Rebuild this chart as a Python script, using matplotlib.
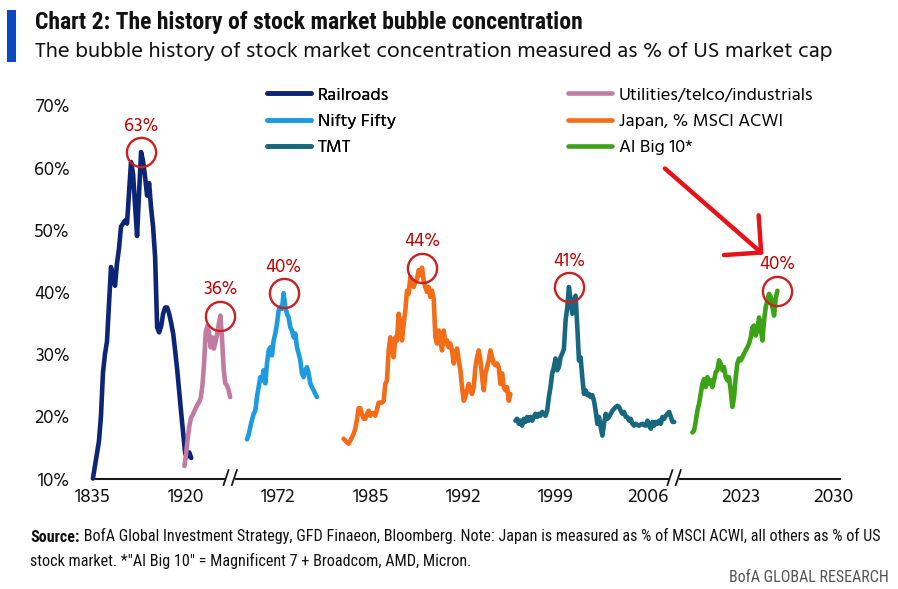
import numpy as np
import matplotlib
matplotlib.use("Agg")
import matplotlib.pyplot as plt
from matplotlib import font_manager as fm
from matplotlib import transforms as mtransforms
from matplotlib.patches import Rectangle

# ---------------- data ----------------
tick_labels = ["1835", "1920", "1972", "1985", "1992", "1999", "2006", "2023", "2030"]
y_ticks = [10, 20, 30, 40, 50, 60, 70]

series_names = ["Railroads", "Utilities/telco/industrials", "Nifty Fifty",
                "Japan, % MSCI ACWI", "TMT", "AI Big 10*"]

railroads = [10, 12, 14, 16, 20, 27, 30, 32, 38, 44, 42.5, 41, 44.6, 47, 50.5,
             51, 51.5, 51, 56, 60.9, 59, 54, 49, 56, 62.5, 61, 58.5, 55.5, 57.5,
             53.5, 50.4, 45.6, 34.3, 33.5, 34.5, 36.5, 37.5, 37.5, 36.5, 35,
             33.3, 30.5, 27.5, 24, 20.5, 17.2, 14, 13.5, 14.2, 13.3]

utilities = [12, 14, 16.5, 18.5, 19.8, 20.2, 20.8, 21.4, 21.9, 22.3, 23, 25,
             28.5, 33.5, 34.5, 33.5, 31.1, 32.7, 30.9, 32, 33.2, 34.8, 36.2,
             32.5, 27.5, 25.3, 25, 24.2, 23.1]

nifty_fifty = [16.3, 17, 18.3, 19.4, 20.4, 20.9, 23.1, 24.7, 26.3, 25.8, 27.4,
               25.3, 28.5, 30.6, 31.1, 29.8, 32.2, 33.3, 34.9, 37, 37.6, 37.3,
               39.8, 37.6, 36.5, 35.9, 34.3, 33.8, 32.7, 33.3, 31.1, 30.1, 29,
               26.9, 26.3, 27.4, 27.9, 26.9, 25.3, 24.7, 24.2, 23.6, 23.1]

japan = [16.4, 16.1, 15.8, 15.6, 16.1, 16.6, 17.2, 18, 19.5, 21.3, 21.3, 20.3,
         19.6, 19.6, 20.4, 20.9, 20.1, 20.5, 20.5, 20.1, 21.1, 22.2, 22.2, 22.2,
         22.5, 25.2, 25.8, 30.6, 32.7, 31.1, 29.5, 32.7, 32.2, 36.5, 34.9, 32.2,
         34.9, 37, 40.2, 39.7, 42.4, 41.8, 40.8, 41.6, 42.1, 43.5, 42.7, 43.9,
         41.8, 40.8, 40, 40.8, 39.2, 40.2, 38.9, 32.7, 31.7, 33.8, 32.2, 30.6,
         33.8, 31.7, 32.2, 31.1, 31.7, 30.6, 28.5, 30.1, 30.9, 29, 27.4, 24.7,
         22.5, 23.1, 24.2, 25.2, 24.2, 23.6, 24.7, 27.9, 29.5, 30.6, 29, 26.3,
         24.2, 26.9, 27.9, 29, 30.6, 29.5, 28.5, 28.2, 28.5, 27.9, 25.2, 26.9,
         24.7, 24.2, 24.7, 22.5, 23.6]

tmt = [19.3, 19.6, 18.8, 19.3, 18.5, 19.6, 19.1, 19.9, 19.3, 19.9, 19.3, 19.9,
       20.4, 19.9, 20.4, 20.1, 20.7, 20.4, 20.1, 20.9, 23.1, 24.7, 26.9, 27.9,
       29.3, 27.4, 27.9, 29.5, 30.1, 30.8, 35.4, 37.5, 40.8, 38.8, 36.5, 38.6,
       39.4, 34.5, 29, 29.5, 26.3, 23.6, 24.2, 23.4, 23.6, 23.1, 23.4, 22.5,
       20.9, 18.8, 19.9, 18.3, 16.9, 18.8, 20.4, 19.6, 19.9, 20.4, 20.9, 21.2,
       21.5, 21.7, 21.5, 20.9, 20.4, 20.7, 19.9, 19.9, 19.3, 19.6, 18.8, 18.5,
       18.8, 18.6, 18.5, 18.7, 18.8, 18.6, 18.5, 19.3, 18.5, 18, 19.1, 18.5,
       19.1, 18.8, 19.3, 18.8, 19.9, 19.6, 20.1, 20.4, 20.7, 19.9, 19.1, 19.1]

ai_big10 = [17.4, 17.7, 19.1, 20.9, 22, 23.6, 25.2, 26, 24.7, 26.3, 25.2, 25.8,
            24.7, 25.8, 27.1, 27.4, 29, 28.5, 27.4, 27.9, 26.3, 25.8, 26.3, 24.2,
            21.5, 23.1, 26.3, 28.5, 29.3, 29, 29.5, 30.1, 30.6, 31.1, 31.7, 32.7,
            34.3, 34.6, 33, 33.8, 35.9, 34.3, 32.2, 35.4, 37.6, 38.6, 39.7, 39.2,
            37.6, 36.2, 39, 40.2]

peak_labels = ["63%", "36%", "40%", "44%", "41%", "40%"]

# ---------------- layout / style ----------------
# where each episode sits along the broken time axis (axis units: one unit per tick)
spans = [(0.0, 1.062), (0.989, 1.483), (1.664, 2.420),
         (2.708, 4.510), (4.564, 6.279), (6.475, 7.394)]
breaks = [1.483, 6.278]
colors = ["#0C2577", "#C27BA0", "#1D9BE2", "#F36C17", "#17687F", "#3CA317"]

avail = {f.name for f in fm.fontManager.ttflist}


def pick(*names):
    for n in names:
        if n in avail:
            return n
    return "DejaVu Sans"


REG = pick("Hind", "Noto Sans", "Open Sans")
COND = pick("Roboto Condensed", "Fira Sans Condensed", "PT Sans Narrow",
            "Asap Condensed", "Archivo Narrow", "Barlow Semi Condensed")

W, H = 898, 589
fig = plt.figure(figsize=(W / 100, H / 100), dpi=100)
fig.patch.set_facecolor("white")
ax = fig.add_axes([92 / W, (H - 478.5) / H, 748 / W, (478.5 - 93) / H])
ax.set_xlim(-0.01, 8.07)
ax.set_ylim(10, 72)

for s in ("top", "right", "left"):
    ax.spines[s].set_visible(False)
ax.spines["bottom"].set_linewidth(1.5)
ax.spines["bottom"].set_color("#1a1a1a")

ax.set_xticks(range(len(tick_labels)))
ax.set_xticklabels(tick_labels, family=REG, fontsize=14, color="#111111")
ax.set_yticks(y_ticks)
ax.set_yticklabels([f"{v}%" for v in y_ticks], family=REG, fontsize=13.5, color="#111111")
ax.tick_params(axis="x", length=0, pad=7)
ax.tick_params(axis="y", length=0, pad=16)

all_series = [railroads, utilities, nifty_fifty, japan, tmt, ai_big10]
handles = []
peaks = []
for name, vals, (a, b), col in zip(series_names, all_series, spans, colors):
    x = np.linspace(a, b, len(vals))
    ln, = ax.plot(x, vals, color=col, lw=3.3, solid_joinstyle="round",
                  solid_capstyle="round", clip_on=False, label=name, zorder=3)
    handles.append(ln)
    i = int(np.argmax(vals))
    peaks.append((x[i], vals[i]))

red = "#CC1F1F"
for (px, py), lab in zip(peaks, peak_labels):
    ax.plot(px, py, marker="o", ms=21, mfc="none", mec=red, mew=1.7, zorder=6,
            clip_on=False)
    ax.annotate(lab, (px, py), xytext=(0, 19), textcoords="offset points",
                ha="center", va="center", color="#C00000", fontsize=13.5, family=REG)

# hand-drawn style arrow pointing at the AI peak
aix, aiy = peaks[-1]
tip_tr = mtransforms.offset_copy(ax.transData, fig=fig, x=-10, y=26, units="points")
ax.annotate("", xy=(aix, aiy), xycoords=tip_tr, xytext=(-71, 62),
            textcoords="offset points",
            arrowprops=dict(arrowstyle="->,head_length=1.9,head_width=1.9",
                            color="#E5141B", lw=3.2, mutation_scale=10,
                            shrinkA=0, shrinkB=0))

# axis breaks
for bx in breaks:
    ax.plot([bx - 0.03, bx + 0.03], [10, 10], color="white", lw=3, clip_on=False, zorder=5)
    for off in (-0.045, 0.045):
        ax.plot([bx + off - 0.027, bx + off + 0.027], [10 - 1.05, 10 + 1.35],
                color="#1a1a1a", lw=1.3, clip_on=False, zorder=6)

# legends (two columns)
order_left = [0, 2, 4]
order_right = [1, 3, 5]
leg_kw = dict(loc="upper left", frameon=False, borderpad=0, borderaxespad=0,
              handlelength=2.4, handletextpad=0.38, labelspacing=0.56,
              prop=dict(family=REG, size=13.2))
leg1 = fig.legend(handles=[handles[i] for i in order_left],
                  bbox_to_anchor=(267 / W, 1 - 87 / H), **leg_kw)
fig.add_artist(leg1)
leg2 = fig.legend(handles=[handles[i] for i in order_right],
                  bbox_to_anchor=(568 / W, 1 - 87 / H), **leg_kw)

# title block
fig.add_artist(Rectangle((7 / W, 1 - 62 / H), 9 / W, 52 / H, transform=fig.transFigure,
                         color="#0B49C4", lw=0))
fig.text(35 / W, 1 - 29.5 / H, "Chart 2: The history of stock market bubble concentration",
         family=COND, weight="bold", fontsize=17, color="#111111", va="baseline")
fig.text(35 / W, 1 - 57 / H,
         "The bubble history of stock market concentration measured as % of US market cap",
         family=REG, fontsize=16.2, color="#111111", va="baseline")

# footnote
src = fig.text(30 / W, 1 - 537 / H, "Source:", family=COND, weight="bold",
               fontsize=11.6, color="#111111", va="center")
ax.annotate(" BofA Global Investment Strategy, GFD Finaeon, Bloomberg. Note: Japan is "
            "measured as % of MSCI ACWI, all others as % of US",
            xy=(1, 0), xycoords=src, ha="left", va="bottom",
            family=COND, fontsize=11.6, color="#111111", annotation_clip=False)
fig.text(30 / W, 1 - 561 / H,
         "stock market. *\"AI Big 10\" = Magnificent 7 + Broadcom, AMD, Micron.",
         family=COND, fontsize=11.6, color="#111111", va="center")
fig.text(889 / W, 1 - 577 / H, "BofA GLOBAL RESEARCH", family=COND, fontsize=11.5,
         color="#555555", ha="right", va="center")

fig.savefig("out.png", dpi=100, facecolor="white")
